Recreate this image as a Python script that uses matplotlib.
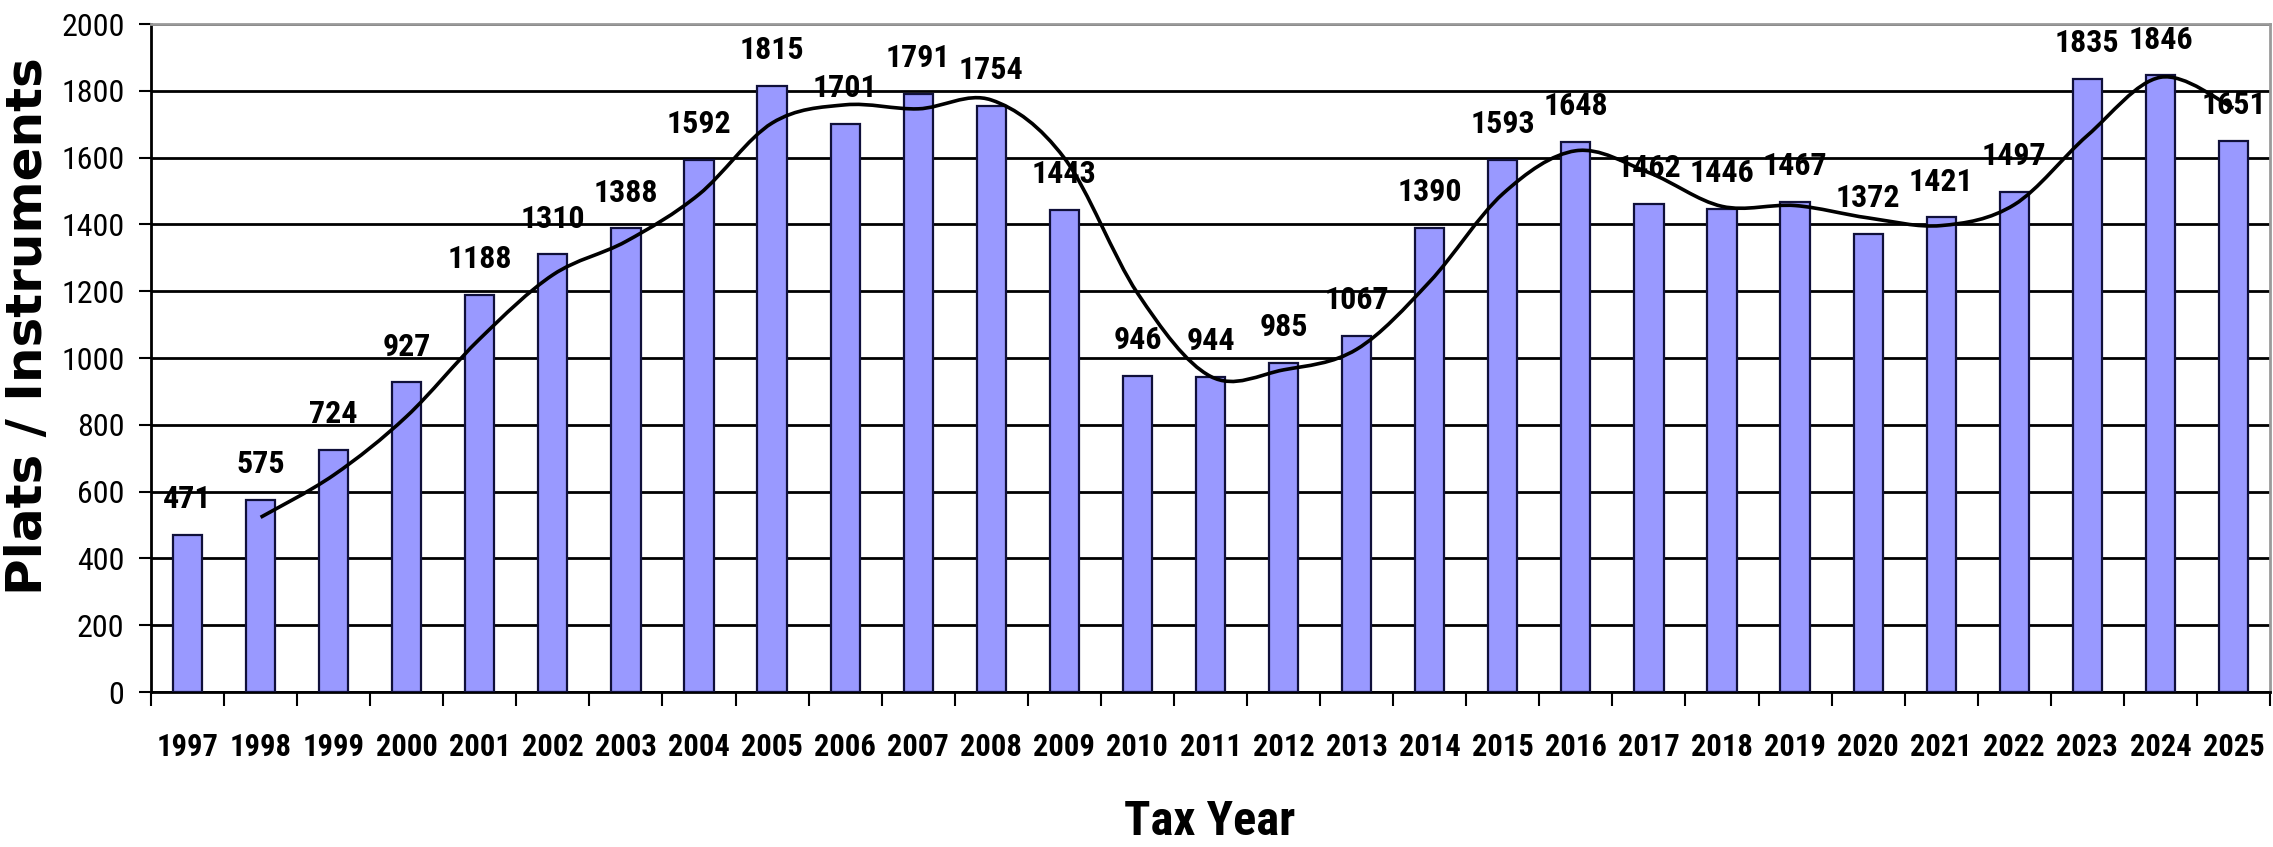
import numpy as np
import matplotlib
matplotlib.use("Agg")
import matplotlib.pyplot as plt
from matplotlib.path import Path
from matplotlib.patches import PathPatch

# Datos
years = [str(y) for y in range(1997, 2026)]
counts = [471, 575, 724, 927, 1188, 1310, 1388, 1592, 1815, 1701,
          1791, 1754, 1443, 946, 944, 985, 1067, 1390, 1593, 1648,
          1462, 1446, 1467, 1372, 1421, 1497, 1835, 1846, 1651]
y_ticks = list(range(0, 2001, 200))

# fuente estrecha (la del original parece Arial Narrow)
NARROW = ["Liberation Sans Narrow", "DejaVu Sans Condensed",
          "Roboto Condensed", "Liberation Sans"]

W, H = 2273, 847
fig = plt.figure(figsize=(W / 100, H / 100), dpi=100)
ax = fig.add_axes([151 / W, 1 - 692 / H, (2270 - 151) / W, (692 - 24) / H])

x = np.arange(len(counts))
ax.bar(x, counts, width=0.4, color="#9999ff", edgecolor="#10103a",
       linewidth=1.6, zorder=3)

# media móvil de 2 periodos, dibujada suavizada (Bezier tipo Catmull-Rom)
ma = [(counts[i - 1] + counts[i]) / 2 for i in range(1, len(counts))]
pts = np.column_stack([x[1:], ma]).astype(float)
verts = [tuple(pts[0])]
codes = [Path.MOVETO]
n = len(pts)
for i in range(n - 1):
    p0 = pts[max(i - 1, 0)]
    p1 = pts[i]
    p2 = pts[i + 1]
    p3 = pts[min(i + 2, n - 1)]
    c1 = p1 + (p2 - p0) / 6
    c2 = p2 - (p3 - p1) / 6
    verts += [tuple(c1), tuple(c2), tuple(p2)]
    codes += [Path.CURVE4] * 3
ax.add_patch(PathPatch(Path(verts, codes), facecolor="none",
                       edgecolor="black", linewidth=2.6, zorder=4))

for xi, v in zip(x, counts):
    ax.annotate(str(v), (xi, v), xytext=(0, 15), textcoords="offset points",
                ha="center", va="bottom", fontsize=23, fontweight="bold",
                family=NARROW, zorder=5)

ax.set_xlim(-0.5, len(counts) - 0.5)
ax.set_ylim(0, 2000)
ax.set_yticks(y_ticks)
ax.set_yticklabels([str(t) for t in y_ticks], family=NARROW, fontsize=23)
ax.set_xticks(x)
ax.set_xticklabels(years, family=NARROW, fontsize=22, fontweight="bold")
ax.set_xticks(np.arange(-0.5, len(counts)), minor=True)
ax.tick_params(axis="x", which="major", length=0, pad=29)
ax.tick_params(axis="x", which="minor", length=10, width=1.5, direction="out")
ax.tick_params(axis="y", length=9, width=1.5, pad=10)

ax.grid(axis="y", color="black", linewidth=2.0, zorder=1)
ax.set_axisbelow(True)
for s in ["left", "bottom"]:
    ax.spines[s].set_linewidth(2.0)
    ax.spines[s].set_color("black")
for s in ["top", "right"]:
    ax.spines[s].set_linewidth(2.0)
    ax.spines[s].set_color("#9a9a9a")

fig.text(28 / W, 1 - 326 / H, "Plats / Instruments", rotation=90,
         ha="center", va="center", fontsize=36, fontweight="bold",
         family=["DejaVu Sans"])
fig.text(1210 / W, 1 - 835 / H, "Tax Year", ha="center", va="baseline",
         fontsize=35, fontweight="bold", family=NARROW)

fig.savefig("out.png", dpi=100)
